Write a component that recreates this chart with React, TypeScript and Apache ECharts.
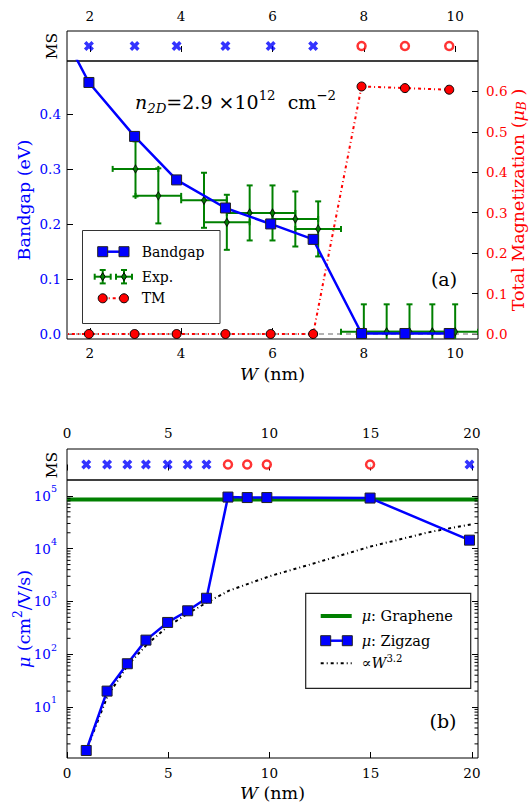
import React, { useEffect, useRef } from 'react';
import * as echarts from 'echarts';

// ---------------- Panel (a) data ----------------
const widthA = [0.95, 1.98, 2.98, 3.9, 4.97, 5.96, 6.89, 7.95, 8.9, 9.87];
const bandgapA = [0.62, 0.457, 0.359, 0.28, 0.229, 0.2, 0.172, 0.001, 0.001, 0.001];
const magnetizationA = [0, 0, 0, 0, 0, 0, 0, 0.612, 0.608, 0.604];
const magneticStateA = ['x', 'x', 'x', 'x', 'x', 'x', 'x', 'o', 'o', 'o'];

const expWidth = [3.0, 3.5, 4.5, 5.0, 5.5, 6.0, 6.5, 7.0, 8.0, 8.5, 9.0, 9.5, 10.0];
const expGap = [0.3, 0.251, 0.243, 0.203, 0.22, 0.22, 0.209, 0.191, 0.004, 0.004, 0.004, 0.004, 0.004];
const expWidthErr = [0.5, 0.5, 0.5, 0.5, 0.5, 0.5, 0.5, 0.5, 0.5, 0.5, 0.5, 0.5, 0.5];
const expGapErr = [0.05, 0.05, 0.05, 0.05, 0.05, 0.05, 0.05, 0.05, 0.05, 0.05, 0.05, 0.05, 0.05];

const xTicksA = [2, 4, 6, 8, 10];
const gapTicks = [0, 0.1, 0.2, 0.3, 0.4];
const tmTicks = [0, 0.1, 0.2, 0.3, 0.4, 0.5, 0.6];

// ---------------- Panel (b) data ----------------
const widthB = [0.95, 1.98, 2.98, 3.9, 4.97, 5.96, 6.89, 7.95, 8.9, 9.87, 14.97, 19.88];
const mobilityZigzag = [1.5, 20, 66, 185, 400, 665, 1150, 95000, 93000, 93000, 91000, 14500];
const magneticStateB = ['x', 'x', 'x', 'x', 'x', 'x', 'x', 'o', 'o', 'o', 'o', 'x'];
const grapheneWidth = [0, 20.3];
const mobilityGraphene = [85000, 85000];
const fitWidth = [0.95, 2, 3, 4, 5, 6, 7, 8, 10, 12, 15, 18, 20];
const fitMobility = [1.5, 16, 62, 160, 340, 600, 1000, 1600, 3000, 5000, 11000, 21000, 29000];

const xTicksB = [0, 5, 10, 15, 20];
const decadeExponents = [1, 2, 3, 4, 5];
const minorMultipliers = [2, 3, 4, 5, 6, 7, 8, 9];

// ---------------- styling ----------------
const FONT = 'DejaVu Serif';
const BLUE = '#0000ff';
const RED = '#ff0000';
const GREEN = '#008000';
const CROSS = 'path://M0,2.5L2.5,0L5,2.5L7.5,0L10,2.5L7.5,5L10,7.5L7.5,10L5,7.5L2.5,10L0,7.5L2.5,5Z';

const yMinB = Math.log10(1.08);
const yMaxB = Math.log10(200000);

function buildOption(): any {
  const L = 67;
  const GW = 411;
  const grid = [
    { left: L, top: 31, width: GW, height: 30 },
    { left: L, top: 61, width: GW, height: 278 },
    { left: L, top: 449, width: GW, height: 31 },
    { left: L, top: 480, width: GW, height: 278 },
  ].map((g) => ({
    ...g,
    show: true,
    borderColor: '#000',
    borderWidth: 1,
    backgroundColor: 'transparent',
    containLabel: false,
    outerBoundsMode: 'none',
  }));

  const xAxisDef = (gridIndex: number, position: string, min: number, max: number, ticks: number[], margin: number) => ({
    type: 'value',
    gridIndex,
    position,
    min,
    max,
    axisLine: { show: false },
    axisTick: { show: true, inside: true, length: 6, customValues: ticks, lineStyle: { color: '#000', width: 1 } },
    axisLabel: {
      show: true,
      customValues: ticks,
      margin,
      fontFamily: FONT,
      fontSize: 13.5,
      color: '#000',
      formatter: (v: number) => String(v),
    },
    splitLine: { show: false },
  });

  const hiddenY = (gridIndex: number) => ({ type: 'value', gridIndex, min: -1, max: 1, show: false });

  const minorTicks: number[] = [];
  for (let d = 0; d <= 5; d++) {
    for (const m of minorMultipliers) {
      const v = d + Math.log10(m);
      if (v > yMinB && v < yMaxB) minorTicks.push(v);
    }
  }

  const xAxis = [
    xAxisDef(0, 'top', 1.5, 10.5, xTicksA, 8),
    xAxisDef(1, 'bottom', 1.5, 10.5, xTicksA, 7),
    xAxisDef(2, 'top', 0, 20.3, xTicksB, 9),
    xAxisDef(3, 'bottom', 0, 20.3, xTicksB, 8),
  ];

  const yAxis = [
    hiddenY(0),
    {
      type: 'value',
      gridIndex: 1,
      position: 'left',
      min: -0.009,
      max: 0.496,
      axisLine: { show: false },
      axisTick: { show: true, inside: true, length: 6, customValues: gapTicks, lineStyle: { color: '#000' } },
      axisLabel: {
        customValues: gapTicks,
        margin: 6,
        fontFamily: FONT,
        fontSize: 13.5,
        color: BLUE,
        formatter: (v: number) => v.toFixed(1),
      },
      splitLine: { show: false },
    },
    {
      type: 'value',
      gridIndex: 1,
      position: 'right',
      min: -0.0124,
      max: 0.675,
      axisLine: { show: false },
      axisTick: { show: true, inside: true, length: 6, customValues: tmTicks, lineStyle: { color: '#000' } },
      axisLabel: {
        customValues: tmTicks,
        margin: 8,
        fontFamily: FONT,
        fontSize: 13.5,
        color: RED,
        formatter: (v: number) => v.toFixed(1),
      },
      splitLine: { show: false },
    },
    hiddenY(2),
    {
      type: 'value',
      gridIndex: 3,
      position: 'left',
      min: yMinB,
      max: yMaxB,
      axisLine: { show: false },
      axisTick: { show: true, inside: true, length: 6, customValues: decadeExponents, lineStyle: { color: '#000' } },
      axisLabel: {
        customValues: decadeExponents,
        margin: 10,
        formatter: (v: number) => `{b|10}{s|${Math.round(v)}}`,
        rich: {
          b: { fontFamily: FONT, fontSize: 13.5, color: BLUE, lineHeight: 24 },
          s: { fontFamily: FONT, fontSize: 9.5, color: BLUE, lineHeight: 10, verticalAlign: 'top' },
        },
      },
      splitLine: { show: false },
    },
    {
      type: 'value',
      gridIndex: 3,
      position: 'right',
      min: yMinB,
      max: yMaxB,
      axisLine: { show: false },
      axisTick: { show: true, inside: true, length: 6, customValues: decadeExponents, lineStyle: { color: '#000' } },
      axisLabel: { show: false },
      splitLine: { show: false },
    },
  ];

  const msSeries = (xi: number, yi: number, widths: number[], states: string[]) => [
    {
      type: 'scatter',
      xAxisIndex: xi,
      yAxisIndex: yi,
      symbol: CROSS,
      symbolSize: 10,
      itemStyle: { color: BLUE },
      data: widths.filter((_, i) => states[i] === 'x').map((w) => [w, 0]),
      z: 5,
    },
    {
      type: 'scatter',
      xAxisIndex: xi,
      yAxisIndex: yi,
      symbol: 'circle',
      symbolSize: 8,
      itemStyle: { color: '#fff', borderColor: RED, borderWidth: 2.5 },
      data: widths.filter((_, i) => states[i] === 'o').map((w) => [w, 0]),
      z: 5,
    },
  ];

  const errorBarRender = (params: any, api: any) => {
    const x = api.value(0);
    const y = api.value(1);
    const dx = api.value(2);
    const dy = api.value(3);
    const l = api.coord([x - dx, y]);
    const r = api.coord([x + dx, y]);
    const t = api.coord([x, y + dy]);
    const b = api.coord([x, y - dy]);
    const cap = 3;
    const style = { stroke: GREEN, lineWidth: 2, fill: null };
    const ln = (x1: number, y1: number, x2: number, y2: number) => ({
      type: 'line',
      shape: { x1, y1, x2, y2 },
      style,
    });
    return {
      type: 'group',
      children: [
        ln(l[0], l[1], r[0], r[1]),
        ln(t[0], t[1], b[0], b[1]),
        ln(l[0], l[1] - cap, l[0], l[1] + cap),
        ln(r[0], r[1] - cap, r[0], r[1] + cap),
        ln(t[0] - cap, t[1], t[0] + cap, t[1]),
        ln(b[0] - cap, b[1], b[0] + cap, b[1]),
      ],
    };
  };

  const minorTickRender = (params: any, api: any) => {
    const y = api.coord([0, api.value(1)])[1];
    const cs = params.coordSys;
    const style = { stroke: '#000', lineWidth: 1 };
    return {
      type: 'group',
      children: [
        { type: 'line', shape: { x1: cs.x, y1: y, x2: cs.x + 3.5, y2: y }, style },
        { type: 'line', shape: { x1: cs.x + cs.width - 3.5, y1: y, x2: cs.x + cs.width, y2: y }, style },
      ],
    };
  };

  const series: any[] = [
    ...msSeries(0, 0, widthA, magneticStateA),
    {
      type: 'custom',
      name: 'Exp.',
      xAxisIndex: 1,
      yAxisIndex: 1,
      clip: true,
      renderItem: errorBarRender,
      encode: { x: 0, y: 1 },
      data: expWidth.map((w, i) => [w, expGap[i], expWidthErr[i], expGapErr[i]]),
      z: 2,
      silent: true,
    },
    {
      type: 'scatter',
      name: 'Exp. center',
      xAxisIndex: 1,
      yAxisIndex: 1,
      symbol: 'diamond',
      symbolSize: [5, 8],
      itemStyle: { color: GREEN, borderColor: '#000', borderWidth: 1 },
      data: expWidth.map((w, i) => [w, expGap[i]]),
      z: 3,
    },
    {
      type: 'line',
      name: 'TM',
      xAxisIndex: 1,
      yAxisIndex: 2,
      data: widthA.map((w, i) => [w, magnetizationA[i]]),
      symbol: 'circle',
      symbolSize: 9,
      showAllSymbol: true,
      itemStyle: { color: RED, borderColor: '#000', borderWidth: 1 },
      lineStyle: { color: RED, width: 2, type: [3, 3, 1, 3] },
      z: 4,
    },
    {
      type: 'line',
      name: 'Bandgap',
      xAxisIndex: 1,
      yAxisIndex: 1,
      data: widthA.map((w, i) => [w, bandgapA[i]]),
      symbol: 'rect',
      symbolSize: 10,
      showAllSymbol: true,
      itemStyle: { color: BLUE, borderColor: '#222', borderWidth: 1 },
      lineStyle: { color: BLUE, width: 2.5 },
      markLine: {
        silent: true,
        symbol: 'none',
        label: { show: false },
        lineStyle: { color: '#999', type: [5, 4], width: 1.5 },
        data: [{ yAxis: 0 }],
        z: 1,
      },
      z: 5,
    },
    ...msSeries(2, 3, widthB, magneticStateB),
    {
      type: 'line',
      name: 'Graphene',
      xAxisIndex: 3,
      yAxisIndex: 4,
      data: grapheneWidth.map((w, i) => [w, Math.log10(mobilityGraphene[i])]),
      symbol: 'none',
      lineStyle: { color: GREEN, width: 4 },
      z: 2,
    },
    {
      type: 'line',
      name: 'Fit',
      xAxisIndex: 3,
      yAxisIndex: 4,
      data: fitWidth.map((w, i) => [w, Math.log10(fitMobility[i])]),
      symbol: 'none',
      lineStyle: { color: '#000', width: 2, type: [3, 3, 1, 3] },
      z: 3,
    },
    {
      type: 'line',
      name: 'Zigzag',
      xAxisIndex: 3,
      yAxisIndex: 4,
      data: widthB.map((w, i) => [w, Math.log10(mobilityZigzag[i])]),
      symbol: 'rect',
      symbolSize: 10,
      showAllSymbol: true,
      itemStyle: { color: BLUE, borderColor: '#222', borderWidth: 1 },
      lineStyle: { color: BLUE, width: 2.5 },
      z: 4,
    },
    {
      type: 'custom',
      name: 'minor ticks',
      xAxisIndex: 3,
      yAxisIndex: 4,
      renderItem: minorTickRender,
      encode: { x: 0, y: 1 },
      data: minorTicks.map((v) => [0, v]),
      silent: true,
      z: 10,
    },
  ];

  // ---------- graphic: titles, annotations, legends ----------
  const txt = (x: number, y: number, text: string, size: number, fill: string, opts: any = {}) => ({
    type: 'text',
    x,
    y,
    rotation: opts.rotation || 0,
    z: 100,
    style: {
      text,
      fill,
      fontFamily: FONT,
      fontSize: size,
      fontStyle: opts.italic ? 'italic' : 'normal',
      align: opts.align || 'center',
      verticalAlign: 'middle',
      rich: opts.rich,
    },
  });
  const mathRich = (size: number, fill: string, lh = 1.4) => ({
    n: { fill, fontFamily: FONT, fontSize: size, lineHeight: size * lh },
    i: { fill, fontFamily: FONT, fontSize: size, fontStyle: 'italic', lineHeight: size * lh },
    s: { fill, fontFamily: FONT, fontSize: size * 0.7, lineHeight: size * 0.75, verticalAlign: 'top' },
    sub: { fill, fontFamily: FONT, fontSize: size * 0.7, fontStyle: 'italic', lineHeight: size * 0.75, verticalAlign: 'bottom' },
  });
  const gLine = (x1: number, y1: number, x2: number, y2: number, stroke: string, lineWidth: number, lineDash?: number[]) => ({
    type: 'line',
    z: 101,
    shape: { x1, y1, x2, y2 },
    style: { stroke, lineWidth, lineDash },
  });
  const gRect = (cx: number, cy: number, s: number, fill: string) => ({
    type: 'rect',
    z: 102,
    shape: { x: cx - s / 2, y: cy - s / 2, width: s, height: s },
    style: { fill, stroke: '#222', lineWidth: 1 },
  });
  const gCircle = (cx: number, cy: number, r: number, fill: string) => ({
    type: 'circle',
    z: 102,
    shape: { cx, cy, r },
    style: { fill, stroke: '#000', lineWidth: 1 },
  });
  const gErr = (cx: number, cy: number) => [
    gLine(cx - 8, cy, cx + 8, cy, GREEN, 2),
    gLine(cx, cy - 6.7, cx, cy + 6.7, GREEN, 2),
    gLine(cx - 8, cy - 3, cx - 8, cy + 3, GREEN, 2),
    gLine(cx + 8, cy - 3, cx + 8, cy + 3, GREEN, 2),
    gLine(cx - 3, cy - 6.7, cx + 3, cy - 6.7, GREEN, 2),
    gLine(cx - 3, cy + 6.7, cx + 3, cy + 6.7, GREEN, 2),
    {
      type: 'polygon',
      z: 102,
      shape: { points: [[cx, cy - 4], [cx + 2.5, cy], [cx, cy + 4], [cx - 2.5, cy]] },
      style: { fill: GREEN, stroke: '#000', lineWidth: 1 },
    },
  ];

  const legA = { x: 82.5, y: 230.5, w: 137.5, h: 93, s1: 102.7, s2: 124, tx: 141.7 };
  const legB = { x: 305.7, y: 593.3, w: 165, h: 95, s1: 320.7, s2: 351.7, tx: 361.7 };

  const graphicElements: any[] = [
    // MS labels
    txt(52, 46, 'MS', 15.5, '#000', { rotation: Math.PI / 2 }),
    txt(52, 465, 'MS', 15.5, '#000', { rotation: Math.PI / 2 }),
    // axis titles
    txt(24, 200, 'Bandgap (eV)', 17.5, BLUE, { rotation: Math.PI / 2 }),
    txt(518, 200, '{n|Total Magnetization (}{i|μ}{sub|B}{n| )}', 17.5, RED, {
      rotation: Math.PI / 2,
      rich: mathRich(17.5, RED, 1.1),
    }),
    txt(272.5, 374, '{i|W}{n| (nm)}', 17.5, '#000', { rich: mathRich(17.5, '#000') }),
    txt(272.5, 793, '{i|W}{n| (nm)}', 17.5, '#000', { rich: mathRich(17.5, '#000') }),
    txt(24, 619, '{i|μ}{n| (cm}{s|2}{n|/V/s)}', 17.5, BLUE, {
      rotation: Math.PI / 2,
      rich: mathRich(17.5, BLUE),
    }),
    // panel tags and annotation
    txt(444, 279, '(a)', 19, '#000'),
    txt(443, 721, '(b)', 19, '#000'),
    txt(135, 102, '{i|n}{sub|2D}{n|=2.9 ×10}{s|12}{n|  cm}{s|−2}', 19, '#000', {
      align: 'left',
      rich: mathRich(19, '#000'),
    }),
    // legend (a)
    {
      type: 'rect',
      z: 100,
      shape: { x: legA.x, y: legA.y, width: legA.w, height: legA.h },
      style: { fill: '#fff', stroke: '#333', lineWidth: 1 },
    },
    gLine(legA.s1, 251.7, legA.s2, 251.7, BLUE, 2.5),
    gRect(legA.s1, 251.7, 10, BLUE),
    gRect(legA.s2, 251.7, 10, BLUE),
    txt(legA.tx, 251.7, 'Bandgap', 14, '#000', { align: 'left' }),
    ...gErr(legA.s1, 276.7),
    ...gErr(legA.s2, 276.7),
    txt(legA.tx, 276.7, 'Exp.', 14, '#000', { align: 'left' }),
    gLine(legA.s1, 298.3, legA.s2, 298.3, RED, 2, [3, 3, 1, 3]),
    gCircle(legA.s1, 298.3, 4.5, RED),
    gCircle(legA.s2, 298.3, 4.5, RED),
    txt(legA.tx, 298.3, 'TM', 14, '#000', { align: 'left' }),
    // legend (b)
    {
      type: 'rect',
      z: 100,
      shape: { x: legB.x, y: legB.y, width: legB.w, height: legB.h },
      style: { fill: '#fff', stroke: '#222', lineWidth: 1.2 },
    },
    gLine(legB.s1, 616, legB.s2, 616, GREEN, 4),
    txt(legB.tx, 616, '{i|μ}{n|: Graphene}', 14.5, '#000', { align: 'left', rich: mathRich(14.5, '#000') }),
    gLine(legB.s1 + 5, 640.7, legB.s2 - 5, 640.7, BLUE, 2.5),
    gRect(legB.s1 + 5, 640.7, 10, BLUE),
    gRect(legB.s2 - 4.4, 640.7, 10, BLUE),
    txt(legB.tx, 640.7, '{i|μ}{n|: Zigzag}', 14.5, '#000', { align: 'left', rich: mathRich(14.5, '#000') }),
    gLine(legB.s1, 663.3, legB.s2, 663.3, '#000', 2, [3, 3, 1, 3]),
    txt(legB.tx, 663.3, '{n|∝}{i|W}{s|3.2}', 14.5, '#000', { align: 'left', rich: mathRich(14.5, '#000') }),
  ];

  return {
    animation: false,
    backgroundColor: '#fff',
    grid,
    xAxis,
    yAxis,
    series,
    graphic: { elements: graphicElements },
  };
}

export default function App() {
  const ref = useRef<HTMLDivElement>(null);
  useEffect(() => {
    if (!ref.current) return;
    const chart = echarts.init(ref.current, null, { renderer: 'svg' });
    chart.setOption(buildOption());
    return () => chart.dispose();
  }, []);
  return (
    <div
      ref={ref}
      style={{ position: 'fixed', left: 0, top: 0, width: 529, height: 809, background: '#fff' }}
    />
  );
}
